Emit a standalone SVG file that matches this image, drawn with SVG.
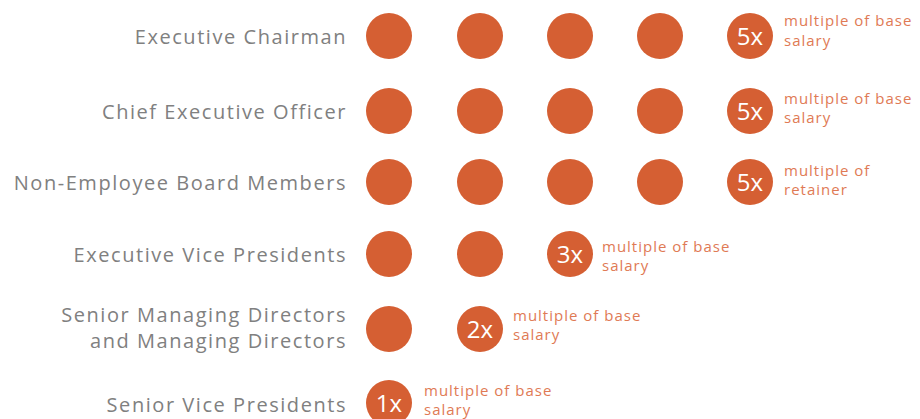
<svg xmlns="http://www.w3.org/2000/svg" width="920" height="419" viewBox="0 0 920 419">
<style>
.lbl{font-family:"Open Sans","Liberation Sans",sans-serif;font-size:20px;fill:#808080;text-anchor:end;letter-spacing:1.55px}
.dot{fill:#d55f33}
.mx{font-family:"Open Sans","Liberation Sans",sans-serif;font-size:24px;fill:#ffffff;text-anchor:middle}
.note{font-family:"Open Sans","Liberation Sans",sans-serif;font-size:15px;fill:#e07a55;letter-spacing:1px}
</style>
<rect width="920" height="419" fill="#ffffff"/>
<g id="row-chairman">
<text class="lbl" x="347" y="44">Executive Chairman</text>
<circle class="dot" cx="389" cy="36" r="23"/><circle class="dot" cx="480" cy="36" r="23"/><circle class="dot" cx="570" cy="36" r="23"/><circle class="dot" cx="660" cy="36" r="23"/>
<circle class="dot" cx="750" cy="36" r="23"/><text class="mx" x="750" y="44.5">5x</text>
<text class="note" x="784" y="26">multiple of base</text><text class="note" x="784" y="46">salary</text>
</g>
<g id="row-ceo">
<text class="lbl" x="347" y="119">Chief Executive Officer</text>
<circle class="dot" cx="389" cy="111" r="23"/><circle class="dot" cx="480" cy="111" r="23"/><circle class="dot" cx="570" cy="111" r="23"/><circle class="dot" cx="660" cy="111" r="23"/>
<circle class="dot" cx="750" cy="111" r="23"/><text class="mx" x="750" y="119.5">5x</text>
<text class="note" x="784" y="104">multiple of base</text><text class="note" x="784" y="123">salary</text>
</g>
<g id="row-board">
<text class="lbl" x="347" y="190">Non-Employee Board Members</text>
<circle class="dot" cx="389" cy="182" r="23"/><circle class="dot" cx="480" cy="182" r="23"/><circle class="dot" cx="570" cy="182" r="23"/><circle class="dot" cx="660" cy="182" r="23"/>
<circle class="dot" cx="750" cy="182" r="23"/><text class="mx" x="750" y="190.5">5x</text>
<text class="note" x="784" y="176">multiple of</text><text class="note" x="784" y="195">retainer</text>
</g>
<g id="row-evp">
<text class="lbl" x="347" y="262">Executive Vice Presidents</text>
<circle class="dot" cx="389" cy="254" r="23"/><circle class="dot" cx="480" cy="254" r="23"/>
<circle class="dot" cx="570" cy="254" r="23"/><text class="mx" x="570" y="262.5">3x</text>
<text class="note" x="602" y="252">multiple of base</text><text class="note" x="602" y="271">salary</text>
</g>
<g id="row-smd">
<text class="lbl" x="347" y="322">Senior Managing Directors</text>
<text class="lbl" x="347" y="348">and Managing Directors</text>
<circle class="dot" cx="389" cy="329" r="23"/>
<circle class="dot" cx="480" cy="329" r="23"/><text class="mx" x="480" y="337.5">2x</text>
<text class="note" x="513" y="321">multiple of base</text><text class="note" x="513" y="340">salary</text>
</g>
<g id="row-svp">
<text class="lbl" x="347" y="412">Senior Vice Presidents</text>
<circle class="dot" cx="389" cy="403" r="23"/><text class="mx" x="389" y="411.5">1x</text>
<text class="note" x="424" y="396">multiple of base</text><text class="note" x="424" y="415">salary</text>
</g>
<g id="connectors"/>
</svg>
